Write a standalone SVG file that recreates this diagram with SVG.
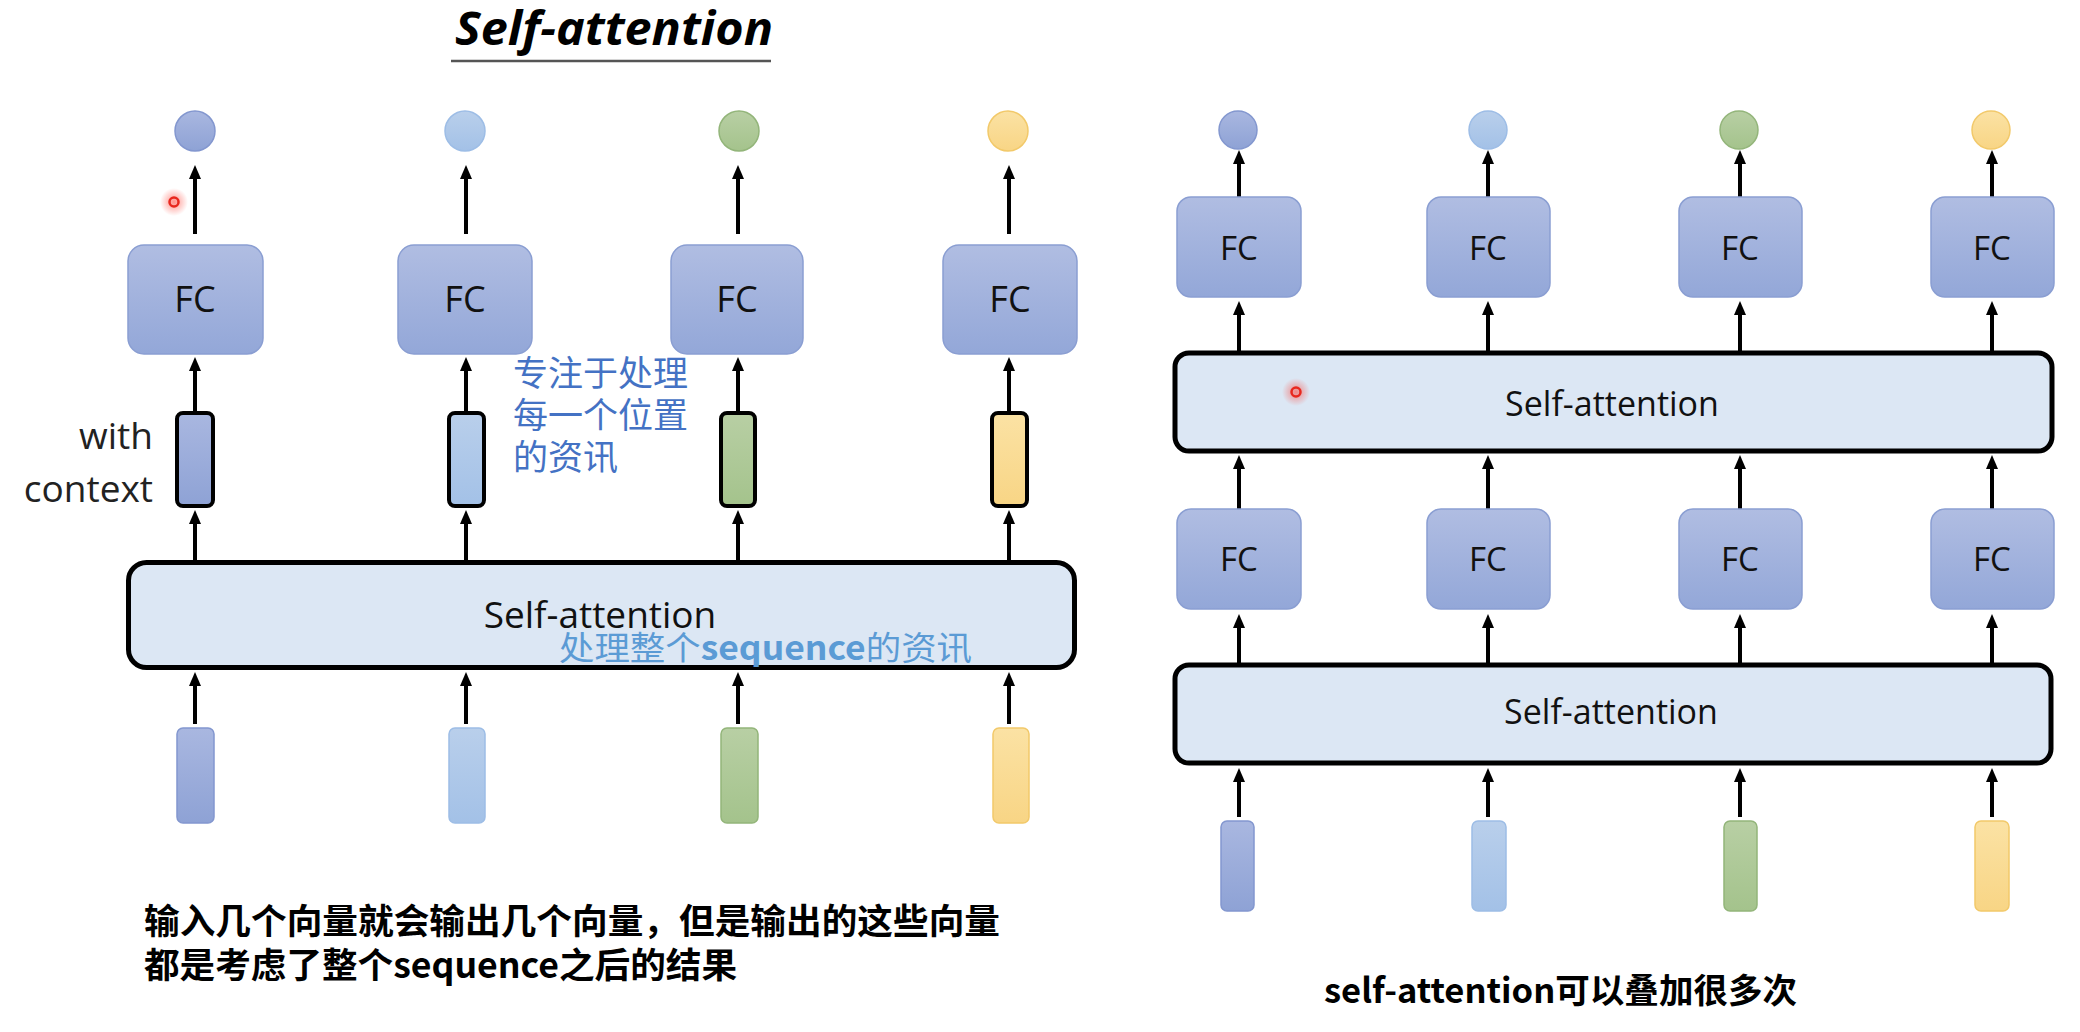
<svg xmlns="http://www.w3.org/2000/svg" width="2080" height="1032" viewBox="0 0 2080 1032">
<defs>
<style>
.fc{stroke:#8a9ed2;stroke-width:1.5;fill:url(#gFC)}
.fct{font-family:"Open Sans","Liberation Sans",sans-serif;fill:#111;text-anchor:middle}
.sa{stroke:#000;stroke-width:5;fill:#dce7f4}
.sat{font-family:"Open Sans","Liberation Sans",sans-serif;fill:#111;text-anchor:middle}
.arr{stroke:#000;stroke-width:4;fill:none;marker-end:url(#ah)}
.b1{fill:url(#gB1);stroke:#8397cf;stroke-width:1.5}
.b2{fill:url(#gB2);stroke:#9dbde6;stroke-width:1.5}
.b3{fill:url(#gB3);stroke:#93b57a;stroke-width:1.5}
.b4{fill:url(#gB4);stroke:#f2c96a;stroke-width:1.5}
.ctx{stroke:#000;stroke-width:4}
.cjk{font-family:"Noto Sans CJK SC","Noto Sans",sans-serif}
</style>
<linearGradient id="gFC" x1="0" y1="0" x2="0" y2="1"><stop offset="0" stop-color="#b0bde2"/><stop offset="1" stop-color="#93a7d8"/></linearGradient>
<linearGradient id="gB1" x1="0" y1="0" x2="0" y2="1"><stop offset="0" stop-color="#a9b7e0"/><stop offset="1" stop-color="#8ea2d5"/></linearGradient>
<linearGradient id="gB2" x1="0" y1="0" x2="0" y2="1"><stop offset="0" stop-color="#b9cfeb"/><stop offset="1" stop-color="#a3c1e7"/></linearGradient>
<linearGradient id="gB3" x1="0" y1="0" x2="0" y2="1"><stop offset="0" stop-color="#b8cfa4"/><stop offset="1" stop-color="#a4c38c"/></linearGradient>
<linearGradient id="gB4" x1="0" y1="0" x2="0" y2="1"><stop offset="0" stop-color="#fbe2a4"/><stop offset="1" stop-color="#f8d585"/></linearGradient>
<radialGradient id="glow"><stop offset="0" stop-color="#ff3b2f" stop-opacity="0.55"/><stop offset="1" stop-color="#ff3b2f" stop-opacity="0"/></radialGradient>
<marker id="ah" markerUnits="userSpaceOnUse" viewBox="0 0 14 12" markerWidth="14" markerHeight="12" refX="3" refY="6" orient="auto"><path d="M0,0 L14,6 L0,12 z" fill="#000"/></marker>
</defs>
<rect width="2080" height="1032" fill="#fff"/>

<!-- Title -->
<g id="title">
<text x="455" y="45" font-family="'Open Sans','Liberation Sans',sans-serif" font-weight="700" font-style="italic" font-size="46" textLength="318" lengthAdjust="spacingAndGlyphs" fill="#000">Self-attention</text>
<line x1="451" y1="61" x2="771" y2="61" stroke="#555" stroke-width="2.5"/>
</g>

<!-- Connectors -->
<g id="connectors">
<line class="arr" x1="195" y1="234" x2="195" y2="176"/>
<line class="arr" x1="466" y1="234" x2="466" y2="176"/>
<line class="arr" x1="738" y1="234" x2="738" y2="176"/>
<line class="arr" x1="1009" y1="234" x2="1009" y2="176"/>
<line class="arr" x1="195" y1="411" x2="195" y2="368"/>
<line class="arr" x1="466" y1="411" x2="466" y2="368"/>
<line class="arr" x1="738" y1="411" x2="738" y2="368"/>
<line class="arr" x1="1009" y1="411" x2="1009" y2="368"/>
<line class="arr" x1="195" y1="561" x2="195" y2="521"/>
<line class="arr" x1="466" y1="561" x2="466" y2="521"/>
<line class="arr" x1="738" y1="561" x2="738" y2="521"/>
<line class="arr" x1="1009" y1="561" x2="1009" y2="521"/>
<line class="arr" x1="195" y1="724" x2="195" y2="683"/>
<line class="arr" x1="466" y1="724" x2="466" y2="683"/>
<line class="arr" x1="738" y1="724" x2="738" y2="683"/>
<line class="arr" x1="1009" y1="724" x2="1009" y2="683"/>

<line class="arr" x1="1239" y1="197" x2="1239" y2="161"/>
<line class="arr" x1="1488" y1="197" x2="1488" y2="161"/>
<line class="arr" x1="1740" y1="197" x2="1740" y2="161"/>
<line class="arr" x1="1992" y1="197" x2="1992" y2="161"/>
<line class="arr" x1="1239" y1="353" x2="1239" y2="312"/>
<line class="arr" x1="1488" y1="353" x2="1488" y2="312"/>
<line class="arr" x1="1740" y1="353" x2="1740" y2="312"/>
<line class="arr" x1="1992" y1="353" x2="1992" y2="312"/>
<line class="arr" x1="1239" y1="509" x2="1239" y2="466"/>
<line class="arr" x1="1488" y1="509" x2="1488" y2="466"/>
<line class="arr" x1="1740" y1="509" x2="1740" y2="466"/>
<line class="arr" x1="1992" y1="509" x2="1992" y2="466"/>
<line class="arr" x1="1239" y1="665" x2="1239" y2="625"/>
<line class="arr" x1="1488" y1="665" x2="1488" y2="625"/>
<line class="arr" x1="1740" y1="665" x2="1740" y2="625"/>
<line class="arr" x1="1992" y1="665" x2="1992" y2="625"/>
<line class="arr" x1="1239" y1="817" x2="1239" y2="779"/>
<line class="arr" x1="1488" y1="817" x2="1488" y2="779"/>
<line class="arr" x1="1740" y1="817" x2="1740" y2="779"/>
<line class="arr" x1="1992" y1="817" x2="1992" y2="779"/>
</g>

<!-- Left diagram -->
<g id="L-out1"><circle class="b1" cx="195" cy="131" r="20"/></g>
<g id="L-out2"><circle class="b2" cx="465" cy="131" r="20"/></g>
<g id="L-out3"><circle class="b3" cx="739" cy="131" r="20"/></g>
<g id="L-out4"><circle class="b4" cx="1008" cy="131" r="20"/></g>

<g id="L-fc1"><rect class="fc" x="128" y="245" width="135" height="109" rx="16"/><text class="fct" x="195" y="312" font-size="36">FC</text></g>
<g id="L-fc2"><rect class="fc" x="398" y="245" width="134" height="109" rx="16"/><text class="fct" x="465" y="312" font-size="36">FC</text></g>
<g id="L-fc3"><rect class="fc" x="671" y="245" width="132" height="109" rx="16"/><text class="fct" x="737" y="312" font-size="36">FC</text></g>
<g id="L-fc4"><rect class="fc" x="943" y="245" width="134" height="109" rx="16"/><text class="fct" x="1010" y="312" font-size="36">FC</text></g>

<g id="L-ctx1"><rect class="b1 ctx" x="177" y="413" width="36" height="93" rx="6"/></g>
<g id="L-ctx2"><rect class="b2 ctx" x="449" y="413" width="35" height="93" rx="6"/></g>
<g id="L-ctx3"><rect class="b3 ctx" x="721" y="413" width="34" height="93" rx="6"/></g>
<g id="L-ctx4"><rect class="b4 ctx" x="992" y="413" width="35" height="93" rx="6"/></g>

<g id="L-label">
<text x="153" y="449" font-family="'Open Sans','Liberation Sans',sans-serif" font-size="37" fill="#222" text-anchor="end">with</text>
<text x="153" y="502" font-family="'Open Sans','Liberation Sans',sans-serif" font-size="37" fill="#222" text-anchor="end">context</text>
</g>

<g id="L-sa">
<rect class="sa" x="128.5" y="562.5" width="946" height="105" rx="18"/>
<text class="sat" x="600" y="628" font-size="37">Self-attention</text>
</g>

<g id="L-in1"><rect class="b1" x="177" y="728" width="37" height="95" rx="6"/></g>
<g id="L-in2"><rect class="b2" x="449" y="728" width="36" height="95" rx="6"/></g>
<g id="L-in3"><rect class="b3" x="721" y="728" width="37" height="95" rx="6"/></g>
<g id="L-in4"><rect class="b4" x="993" y="728" width="36" height="95" rx="6"/></g>

<g id="L-note1">
<text class="cjk" font-size="35" fill="#4472c4">
<tspan x="513" y="386">专注于处理</tspan>
<tspan x="513" y="428">每一个位置</tspan>
<tspan x="513" y="470">的资讯</tspan>
</text>
</g>
<g id="L-note2">
<text class="cjk" x="559" y="660" font-size="33" fill="#5b9bd5" textLength="413" lengthAdjust="spacingAndGlyphs">处理整个<tspan font-weight="700">sequence</tspan>的资讯</text>
</g>

<g id="L-caption">
<text class="cjk" x="144" y="934" font-size="35" font-weight="700" fill="#000" textLength="856" lengthAdjust="spacingAndGlyphs">输入几个向量就会输出几个向量，但是输出的这些向量</text>
<text class="cjk" x="144" y="978" font-size="35" font-weight="700" fill="#000" textLength="593" lengthAdjust="spacingAndGlyphs">都是考虑了整个sequence之后的结果</text>
</g>

<!-- Right diagram -->
<g id="R-out1"><circle class="b1" cx="1238" cy="130" r="19"/></g>
<g id="R-out2"><circle class="b2" cx="1488" cy="130" r="19"/></g>
<g id="R-out3"><circle class="b3" cx="1739" cy="130" r="19"/></g>
<g id="R-out4"><circle class="b4" cx="1991" cy="130" r="19"/></g>

<g id="R-fcA1"><rect class="fc" x="1177" y="197" width="124" height="100" rx="14"/><text class="fct" x="1239" y="260" font-size="33">FC</text></g>
<g id="R-fcA2"><rect class="fc" x="1427" y="197" width="123" height="100" rx="14"/><text class="fct" x="1488" y="260" font-size="33">FC</text></g>
<g id="R-fcA3"><rect class="fc" x="1679" y="197" width="123" height="100" rx="14"/><text class="fct" x="1740" y="260" font-size="33">FC</text></g>
<g id="R-fcA4"><rect class="fc" x="1931" y="197" width="123" height="100" rx="14"/><text class="fct" x="1992" y="260" font-size="33">FC</text></g>

<g id="R-saA">
<rect class="sa" x="1175" y="353" width="877" height="98" rx="14" stroke-width="4" fill="#d7e0f2"/>
<text class="sat" x="1612" y="416" font-size="34">Self-attention</text>
</g>

<g id="R-fcB1"><rect class="fc" x="1177" y="509" width="124" height="100" rx="14"/><text class="fct" x="1239" y="571" font-size="33">FC</text></g>
<g id="R-fcB2"><rect class="fc" x="1427" y="509" width="123" height="100" rx="14"/><text class="fct" x="1488" y="571" font-size="33">FC</text></g>
<g id="R-fcB3"><rect class="fc" x="1679" y="509" width="123" height="100" rx="14"/><text class="fct" x="1740" y="571" font-size="33">FC</text></g>
<g id="R-fcB4"><rect class="fc" x="1931" y="509" width="123" height="100" rx="14"/><text class="fct" x="1992" y="571" font-size="33">FC</text></g>

<g id="R-saB">
<rect class="sa" x="1175" y="665" width="876" height="98" rx="14" stroke-width="4"/>
<text class="sat" x="1611" y="724" font-size="34">Self-attention</text>
</g>

<g id="R-in1"><rect class="b1" x="1221" y="821" width="33" height="90" rx="6"/></g>
<g id="R-in2"><rect class="b2" x="1472" y="821" width="34" height="90" rx="6"/></g>
<g id="R-in3"><rect class="b3" x="1724" y="821" width="33" height="90" rx="6"/></g>
<g id="R-in4"><rect class="b4" x="1975" y="821" width="34" height="90" rx="6"/></g>

<g id="R-caption">
<text class="cjk" x="1324" y="1003" font-size="34" font-weight="700" fill="#000" textLength="473" lengthAdjust="spacingAndGlyphs">self-attention可以叠加很多次</text>
</g>

<!-- laser pointer marks -->
<g id="pointer1"><circle cx="174" cy="202" r="14" fill="url(#glow)"/><circle cx="174" cy="202" r="4.5" fill="none" stroke="#e8281e" stroke-width="2.5"/></g>
<g id="pointer2"><circle cx="1296" cy="392" r="14" fill="url(#glow)"/><circle cx="1296" cy="392" r="4.5" fill="none" stroke="#e8281e" stroke-width="2.5"/></g>
</svg>
